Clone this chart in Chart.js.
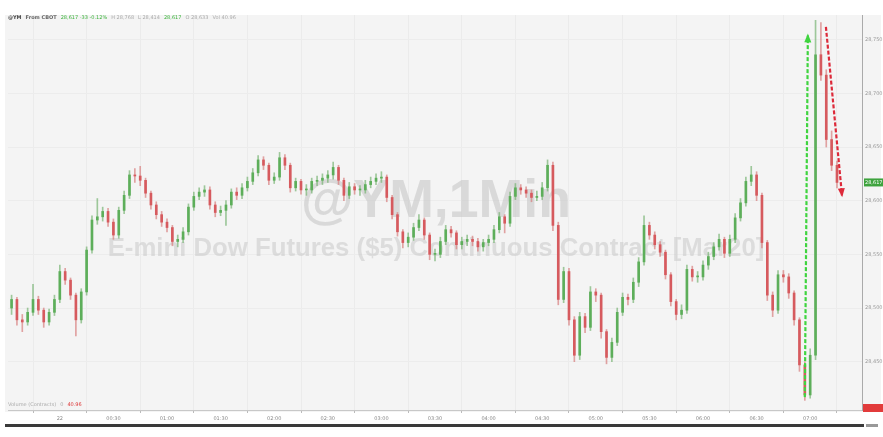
<!DOCTYPE html>
<html><head><meta charset="utf-8">
<script src="https://cdn.jsdelivr.net/npm/chart.js@4.4.1/dist/chart.umd.min.js"></script>
<style>html,body{margin:0;padding:0;background:#fff;overflow:hidden}#c{display:block}</style>
</head><body>
<canvas id="c" width="883" height="437"></canvas>
<script>
// ---------- data ----------
const tickLabels  = ['22','00:30','01:00','01:30','02:00','02:30','03:00','03:30','04:00','04:30','05:00','05:30','06:00','06:30','07:00'];
const tickMinutes = [0,30,60,90,120,150,180,210,240,270,300,330,360,390,420];
const priceTicks  = [28450,28500,28550,28600,28650,28700,28750];
const startMinute = -27;   // time of the first 1-min bar shown
const barStep     = 3;     // minutes between plotted bars
const firstOpen   = 28500;
const closes = [28508,28489,28487,28496,28508,28498,28487,28496,28508,28534,
 28526,28512,28489,28515,28554,28582,28585,28590,28580,28568,
 28591,28605,28624,28623,28619,28607,28596,28587,28580,28575,
 28562,28564,28571,28594,28604,28608,28610,28596,28589,28591,
 28596,28608,28605,28612,28618,28626,28638,28633,28619,28622,
 28640,28633,28612,28618,28610,28610,28618,28619,28621,28624,
 28631,28619,28605,28613,28610,28610,28615,28618,28621,28622,
 28603,28587,28571,28561,28566,28575,28582,28568,28550,28550,
 28562,28573,28570,28559,28562,28564,28562,28557,28561,28564,
 28573,28585,28579,28604,28612,28610,28607,28603,28604,28612,
 28633,28577,28508,28534,28489,28456,28492,28482,28515,28512,
 28478,28454,28468,28496,28510,28508,28524,28543,28577,28568,
 28559,28552,28531,28506,28494,28498,28536,28529,28529,28540,
 28548,28557,28564,28551,28564,28584,28598,28618,28624,28605,
 28561,28512,28498,28531,28529,28514,28489,28447,28419,28456,
 28736,28717,28657,28633,28617];
const highs = [28512,28510,28494,28500,28522,28511,28500,28499,28512,28540,
 28537,28528,28514,28518,28557,28586,28602,28594,28593,28583,
 28594,28609,28628,28630,28632,28621,28609,28599,28590,28583,
 28577,28568,28575,28597,28608,28612,28614,28613,28599,28595,
 28600,28611,28612,28616,28622,28630,28642,28641,28635,28626,
 28645,28643,28635,28621,28620,28615,28621,28623,28625,28628,
 28636,28633,28621,28617,28616,28614,28619,28622,28625,28627,
 28624,28605,28589,28573,28570,28579,28587,28584,28570,28555,
 28566,28577,28576,28572,28566,28568,28567,28565,28564,28568,
 28577,28589,28587,28608,28616,28615,28613,28610,28609,28617,
 28638,28636,28580,28538,28537,28492,28496,28495,28520,28518,
 28514,28480,28472,28500,28514,28513,28528,28547,28586,28580,
 28571,28562,28554,28533,28508,28503,28540,28539,28534,28544,
 28552,28561,28569,28566,28568,28588,28602,28622,28632,28627,
 28607,28563,28515,28535,28535,28532,28516,28491,28450,28462,
 28768,28766,28722,28665,28637];
const lows = [28494,28484,28478,28484,28493,28494,28482,28484,28493,28505,
 28522,28508,28474,28486,28512,28551,28578,28581,28576,28564,
 28565,28588,28602,28617,28614,28603,28592,28583,28576,28571,
 28558,28557,28561,28568,28591,28601,28604,28592,28585,28586,
 28577,28593,28601,28602,28609,28615,28623,28629,28615,28616,
 28619,28629,28608,28609,28606,28605,28607,28614,28615,28617,
 28620,28615,28600,28602,28606,28605,28607,28612,28615,28617,
 28599,28583,28567,28556,28557,28563,28572,28564,28545,28544,
 28547,28559,28566,28555,28555,28558,28558,28553,28553,28558,
 28561,28570,28570,28576,28601,28606,28603,28599,28600,28601,
 28609,28572,28503,28505,28484,28450,28452,28477,28479,28506,
 28472,28448,28450,28465,28493,28503,28505,28520,28540,28564,
 28555,28548,28527,28502,28489,28490,28495,28525,28524,28526,
 28536,28545,28554,28547,28548,28561,28581,28595,28614,28600,
 28556,28507,28492,28495,28524,28509,28484,28441,28414,28416,
 28452,28712,28650,28628,28612];
// annotation arrows in data units [minute, price]
const greenArrow = [[417, 28417], [418.7, 28754]];
const redArrow   = [[428.8, 28762], [437.8, 28605]];

// ---------- build datasets ----------
const opens = closes.map((c, i) => i === 0 ? firstOpen : closes[i - 1]);
const times = closes.map((c, i) => startMinute + barStep * i);
const UP = '#5dae5a', DOWN = '#d65a5e';
const isUp = i => closes[i] >= opens[i];
const wickData = times.map((t, i) => ({x: t, y: [lows[i], highs[i]]}));
const bodyData = times.map((t, i) => ({x: t, y: [opens[i], closes[i]]}));

const bgPlugin = {
  id: 'bg',
  beforeDraw(chart) {
    const c = chart.ctx, a = chart.chartArea;
    c.save();
    c.fillStyle = '#ffffff'; c.fillRect(0, 0, chart.width, chart.height);
    c.fillStyle = '#f4f4f4'; c.fillRect(5, a.top, 876, a.bottom - a.top + 2);
    c.restore();
  }
};
const watermark = {
  id: 'wm',
  beforeDatasetsDraw(chart) {
    const c = chart.ctx, a = chart.chartArea;
    const cx = (a.left + a.right) / 2 + 1;
    c.save();
    c.textAlign = 'center'; c.textBaseline = 'alphabetic';
    const fam = '"Liberation Sans", Arial, sans-serif';
    const fit = (txt, w) => { c.font = 'bold 100px ' + fam; return 100 * w / c.measureText(txt).width; };
    c.font = 'bold ' + fit('@YM,1Min', 270) + 'px ' + fam;
    c.fillStyle = 'rgba(200,200,200,0.62)';
    c.fillText('@YM,1Min', cx, 217);
    const t2 = 'E-mini Dow Futures ($5) Continuous Contract [Mar20]';
    c.font = 'bold ' + fit(t2, 657) + 'px ' + fam;
    c.fillStyle = 'rgba(200,200,200,0.55)';
    c.fillText(t2, cx, 256);
    c.restore();
  }
};
function arrow(c, p0, p1, color) {
  c.save();
  c.strokeStyle = color; c.fillStyle = color; c.lineWidth = 2.2;
  c.setLineDash([4, 2]);
  c.beginPath(); c.moveTo(p0[0], p0[1]); c.lineTo(p1[0], p1[1]); c.stroke();
  c.setLineDash([]);
  const ang = Math.atan2(p1[1] - p0[1], p1[0] - p0[0]);
  const L = 7, W = 3.5;
  c.beginPath();
  c.moveTo(p1[0] + Math.cos(ang) * 2, p1[1] + Math.sin(ang) * 2);
  c.lineTo(p1[0] - Math.cos(ang) * L + Math.sin(ang) * W, p1[1] - Math.sin(ang) * L - Math.cos(ang) * W);
  c.lineTo(p1[0] - Math.cos(ang) * L - Math.sin(ang) * W, p1[1] - Math.sin(ang) * L + Math.cos(ang) * W);
  c.closePath(); c.fill();
  c.restore();
}
function textRow(c, parts, x, y) {
  for (const [txt, col, bold] of parts) {
    c.font = (bold ? 'bold ' : '') + '5px "DejaVu Sans", sans-serif';
    c.fillStyle = col; c.fillText(txt, x, y);
    x += c.measureText(txt).width + 4;
  }
}
const overlay = {
  id: 'ov',
  afterDatasetsDraw(chart) {
    const c = chart.ctx, xs = chart.scales.x, ys = chart.scales.y;
    const px = p => [xs.getPixelForValue(p[0]), ys.getPixelForValue(p[1])];
    arrow(c, px(greenArrow[0]), px(greenArrow[1]), '#3fd43f');
    arrow(c, px(redArrow[0]), px(redArrow[1]), '#dd2a3a');
  },
  afterDraw(chart) {
    const c = chart.ctx, a = chart.chartArea, ys = chart.scales.y;
    c.save();
    c.textBaseline = 'middle'; c.textAlign = 'left';
    textRow(c, [['@YM', '#444', true], ['From CBOT', '#666', true], ['28,617 -33 -0.12%', '#3cb43c'],
                ['H 28,768', '#aaa'], ['L 28,414', '#aaa'], ['28,617', '#3cb43c'], ['O 28,633', '#aaa'], ['Vol 40.96', '#aaa']], 8, 18);
    textRow(c, [['Volume (Contracts)', '#aaa'], ['0', '#aaa'], ['40.96', '#d33']], 8, 405);
    const last = closes[closes.length - 1];
    const yl = ys.getPixelForValue(last);
    c.fillStyle = '#3ea33e'; c.fillRect(a.right + 2, yl - 4, 19, 8);
    c.fillStyle = '#fff'; c.font = '5px "DejaVu Sans", sans-serif';
    c.fillText(last.toLocaleString('en-US'), a.right + 3, yl);
    c.fillStyle = '#e23b3b'; c.fillRect(a.right + 1, a.bottom - 6, 20, 8);
    c.fillStyle = '#3a3a3a'; c.fillRect(5, 424, a.right - 3, 3);
    c.fillStyle = '#999'; c.fillRect(a.right + 4, 424, 12, 3);
    c.restore();
  }
};

new Chart(document.getElementById('c'), {
  type: 'bar',
  data: {
    datasets: [
      { label: 'wick', data: wickData, grouped: false, barThickness: 1, order: 2,
        backgroundColor: ctx => isUp(ctx.dataIndex) ? 'rgba(120,180,115,0.7)' : 'rgba(215,125,125,0.7)' },
      { label: 'body', data: bodyData, grouped: false, barThickness: 2, minBarLength: 1, order: 1,
        backgroundColor: ctx => isUp(ctx.dataIndex) ? UP : DOWN }
    ]
  },
  options: {
    responsive: false, animation: false, devicePixelRatio: 1,
    layout: { padding: { left: 8, top: 15, right: 0, bottom: 0 } },
    plugins: { legend: { display: false }, tooltip: { enabled: false } },
    scales: {
      x: {
        type: 'linear', min: -29, max: 449, offset: false,
        afterFit: s => { s.height = 27; },
        afterBuildTicks: s => { s.ticks = tickMinutes.map(v => ({ value: v })); },
        ticks: { autoSkip: false, maxRotation: 0, padding: 3, color: '#888',
                 font: { size: 5, family: '"DejaVu Sans", sans-serif' },
                 callback: v => tickLabels[tickMinutes.indexOf(v)] },
        grid: { color: '#ebebeb', lineWidth: 1, drawTicks: true, tickLength: 3, tickColor: '#bbb' },
        border: { color: '#c8c8c8' }
      },
      y: {
        position: 'right', min: 28405, max: 28773,
        afterFit: s => { s.width = 21; },
        afterBuildTicks: s => { s.ticks = priceTicks.map(v => ({ value: v })); },
        ticks: { padding: 3, color: '#999', font: { size: 5, family: '"DejaVu Sans", sans-serif' },
                 callback: v => v.toLocaleString('en-US') },
        grid: { color: '#ececec', drawTicks: false },
        border: { color: '#aaaaaa' }
      }
    }
  },
  plugins: [bgPlugin, watermark, overlay]
});
</script>
</body></html>
